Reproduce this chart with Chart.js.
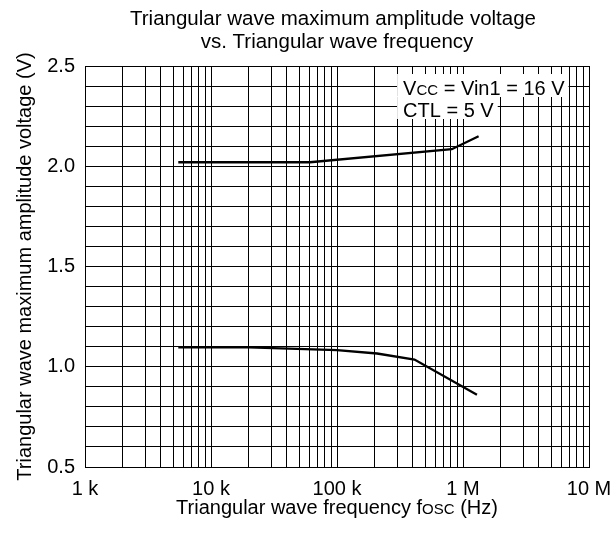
<!DOCTYPE html>
<html lang="en">
<head>
<meta charset="UTF-8">
<title>Triangular wave maximum amplitude voltage vs. frequency</title>
<script src="https://cdn.jsdelivr.net/npm/chart.js"></script>
<style>
  body { margin: 0; padding: 0; background: #fff; }
  #wrap { width: 613px; height: 533px; }
</style>
</head>
<body>
<div id="wrap"><canvas id="myChart" width="613" height="533"></canvas></div>
<script>
const freqUpper = [5500, 61000, 815000, 1330000];
const ampUpper = [2.02, 2.02, 2.085, 2.15];
const freqLower = [5500, 20000, 100000, 208000, 412000, 1290000];
const ampLower = [1.097, 1.097, 1.083, 1.066, 1.036, 0.86];

const xTickValues = [1e3, 1e4, 1e5, 1e6, 1e7];
const xTickLabels = ['1 k', '10 k', '100 k', '1 M', '10 M'];
const yTickValues = [0.5, 1.0, 1.5, 2.0, 2.5];
const yTickLabels = ['0.5', '1.0', '1.5', '2.0', '2.5'];

const FONT = '"Liberation Sans", Arial, sans-serif';

function toPoints(xs, ys) {
    return xs.map((x, i) => ({ x: x, y: ys[i] }));
}

// all grid lines: 1..9 per decade
function logGrid() {
    const out = [];
    for (let d = 1e3; d < 1e7; d *= 10) {
        for (let m = 1; m < 10; m++) out.push({ value: d * m });
    }
    out.push({ value: 1e7 });
    return out;
}

// draws text pieces like [['V',20],['CC',15]] one after another
function drawPieces(ctx, pieces, x, y) {
    pieces.forEach(p => {
        ctx.font = p[1] + 'px ' + FONT;
        ctx.fillText(p[0], x, y);
        x += ctx.measureText(p[0]).width;
    });
    return x;
}
function piecesWidth(ctx, pieces) {
    let w = 0;
    pieces.forEach(p => { ctx.font = p[1] + 'px ' + FONT; w += ctx.measureText(p[0]).width; });
    return w;
}

const textPlugin = {
    id: 'textStuff',
    afterDraw: chart => {
        const ctx = chart.ctx;
        const area = chart.chartArea;
        const xs = chart.scales.x;
        const midX = (area.left + area.right) / 2;
        ctx.save();
        ctx.fillStyle = '#000';
        ctx.textBaseline = 'alphabetic';

        // title
        ctx.font = '20.5px ' + FONT;
        ctx.textAlign = 'center';
        ctx.fillText('Triangular wave maximum amplitude voltage', midX - 4, 25);
        ctx.fillText('vs. Triangular wave frequency', midX, 48);

        // y title
        ctx.save();
        ctx.translate(31, (area.top + area.bottom) / 2);
        ctx.rotate(-Math.PI / 2);
        ctx.font = '20px ' + FONT;
        ctx.fillText('Triangular wave maximum amplitude voltage (V)', 0, 0);
        ctx.restore();

        // x title with small-caps "OSC"
        ctx.textAlign = 'left';
        const xt = [['Triangular wave frequency f', 20], ['OSC', 15], [' (Hz)', 20]];
        const xw = piecesWidth(ctx, xt);
        drawPieces(ctx, xt, midX - xw / 2, 514);

        // condition box
        const left = xs.getPixelForValue(300000);
        const lines = [
            [['V', 20], ['CC', 15], [' = Vin1 = 16 V', 20]],
            [['CTL = 5 V', 20]]
        ];
        const base = [95, 117];
        lines.forEach((line, i) => {
            const w = piecesWidth(ctx, line);
            ctx.fillStyle = '#fff';
            ctx.fillRect(left, base[i] - 21, w + 10, 23);
            ctx.fillStyle = '#000';
            drawPieces(ctx, line, left + 6, base[i]);
        });
        ctx.restore();
    }
};

const ctx = document.getElementById('myChart').getContext('2d');
new Chart(ctx, {
    type: 'line',
    data: {
        datasets: [
            { data: toPoints(freqUpper, ampUpper), borderColor: '#000', borderWidth: 2.3, pointRadius: 0, tension: 0, fill: false },
            { data: toPoints(freqLower, ampLower), borderColor: '#000', borderWidth: 2.3, pointRadius: 0, tension: 0, fill: false }
        ]
    },
    options: {
        responsive: false,
        animation: false,
        layout: { padding: { top: 66, right: 24, left: 0, bottom: 0 } },
        scales: {
            x: {
                type: 'logarithmic',
                min: 1e3,
                max: 1e7,
                afterBuildTicks: s => { s.ticks = logGrid(); },
                afterFit: s => { s.height = 66; s.paddingLeft = 0; s.paddingRight = 0; },
                grid: { color: '#000', lineWidth: 1, drawTicks: false },
                border: { color: '#000', width: 1 },
                ticks: {
                    autoSkip: false,
                    maxRotation: 0,
                    padding: 10,
                    color: '#000',
                    font: { family: FONT, size: 20 },
                    callback: v => {
                        const i = xTickValues.indexOf(v);
                        return i >= 0 ? xTickLabels[i] : '';
                    }
                }
            },
            y: {
                min: 0.5,
                max: 2.5,
                afterBuildTicks: s => {
                    const t = [];
                    for (let i = 0; i <= 20; i++) t.push({ value: Math.round((0.5 + i * 0.1) * 10) / 10 });
                    s.ticks = t;
                },
                afterFit: s => { s.width = 85; s.paddingTop = 0; s.paddingBottom = 0; },
                grid: { color: '#000', lineWidth: 1, drawTicks: false },
                border: { color: '#000', width: 1 },
                ticks: {
                    autoSkip: false,
                    padding: 10,
                    color: '#000',
                    font: { family: FONT, size: 20 },
                    callback: v => {
                        const i = yTickValues.findIndex(t => Math.abs(t - v) < 1e-6);
                        return i >= 0 ? yTickLabels[i] : '';
                    }
                }
            }
        },
        plugins: {
            legend: { display: false },
            tooltip: { enabled: false },
            title: { display: false }
        }
    },
    plugins: [textPlugin]
});
</script>
</body>
</html>
